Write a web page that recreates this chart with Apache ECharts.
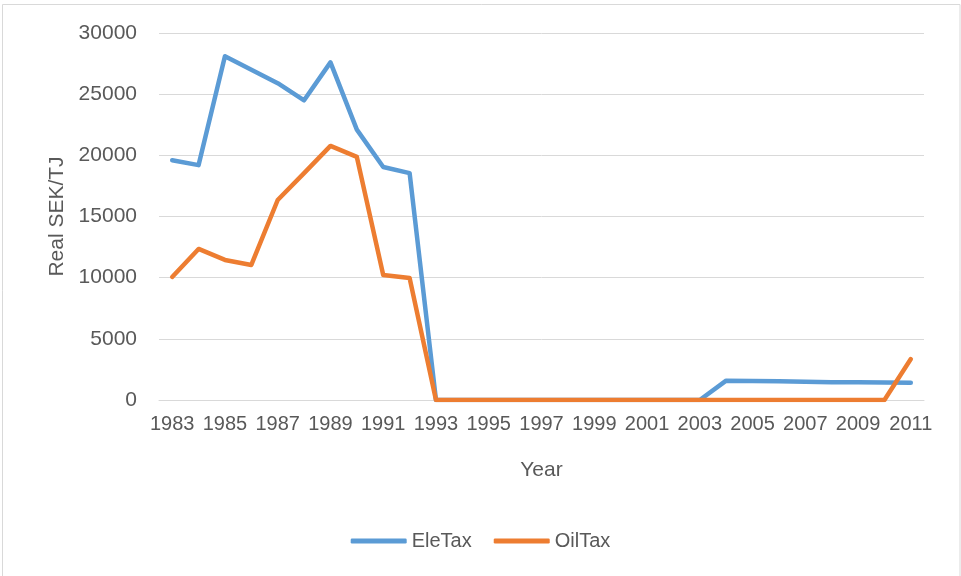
<!DOCTYPE html>
<html>
<head>
<meta charset="utf-8">
<script src="https://cdn.jsdelivr.net/npm/echarts@6/dist/echarts.min.js"></script>
<style>
  html, body { margin: 0; padding: 0; background: #fff; }
  #chart { width: 961px; height: 576px; }
</style>
</head>
<body>
<div id="chart"></div>
<script>
var years = [];
for (var y = 1983; y <= 2011; y++) years.push(String(y));

var eleTax = [19600, 19200, 28100, 27000, 25900, 24500, 27600, 22100, 19050, 18550,
  0, 0, 0, 0, 0, 0, 0, 0, 0, 0, 0,
  1580, 1560, 1530, 1500, 1460, 1450, 1430, 1410];
var oilTax = [10060, 12350, 11450, 11040, 16350, 18550, 20770, 19870, 10220, 9980,
  0, 0, 0, 0, 0, 0, 0, 0, 0, 0, 0, 0, 0, 0, 0, 0, 0, 0, 3350];

var textColor = "#595959";
var font = "Liberation Sans";

var chart = echarts.init(document.getElementById("chart"));
chart.setOption({
  animation: false,
  textStyle: { fontFamily: font },
  grid: { left: 159, right: 37, top: 33, bottom: 176 },
  graphic: [{
    type: "rect",
    shape: { x: 2.5, y: 4.5, width: 957.5, height: 580 },
    style: { fill: null, stroke: "#d9d9d9", lineWidth: 1 },
    silent: true
  }],
  legend: {
    bottom: 20,
    left: "center",
    itemWidth: 56,
    itemHeight: 5,
    itemGap: 22,
    icon: "roundRect",
    textStyle: { color: textColor, fontSize: 20, fontFamily: font },
    data: ["EleTax", "OilTax"]
  },
  xAxis: {
    type: "category",
    data: years,
    boundaryGap: true,
    name: "Year",
    nameLocation: "middle",
    nameGap: 60,
    nameTextStyle: { color: textColor, fontSize: 21 },
    axisLine: { show: true, lineStyle: { color: "#d9d9d9" } },
    axisTick: { show: false },
    axisLabel: { interval: 1, color: textColor, fontSize: 20, margin: 14 }
  },
  yAxis: {
    type: "value",
    min: 0,
    max: 30000,
    interval: 5000,
    name: "Real SEK/TJ",
    nameLocation: "middle",
    nameGap: 91,
    nameTextStyle: { color: textColor, fontSize: 21 },
    axisLine: { show: false },
    axisTick: { show: false },
    axisLabel: {
      color: textColor, fontSize: 21, margin: 22,
      formatter: function (v) { return String(v); }
    },
    splitLine: { lineStyle: { color: "#d9d9d9", width: 1 } }
  },
  series: [
    {
      name: "EleTax",
      type: "line",
      data: eleTax,
      symbol: "none",
      color: "#5B9BD5",
      lineStyle: { width: 4.5, cap: "round", join: "round" }
    },
    {
      name: "OilTax",
      type: "line",
      data: oilTax,
      symbol: "none",
      color: "#ED7D31",
      lineStyle: { width: 4.5, cap: "round", join: "round" }
    }
  ]
});
</script>
</body>
</html>
